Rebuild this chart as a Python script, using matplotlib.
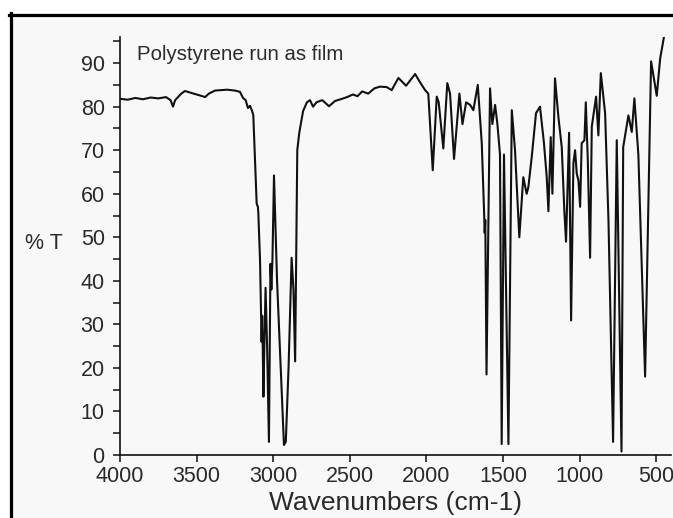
import matplotlib
matplotlib.use("Agg")
import matplotlib.pyplot as plt
from matplotlib.lines import Line2D
from matplotlib.patches import Rectangle
from matplotlib.ticker import MultipleLocator

# IR spectrum of polystyrene film
wavenumber = [
    4000, 3950, 3900, 3850, 3800, 3750, 3700, 3670, 3654, 3640, 3600, 3576,
    3520, 3480, 3445, 3420, 3380, 3300, 3250, 3217, 3197, 3180, 3165, 3151,
    3138, 3130, 3119, 3108, 3100, 3097, 3086, 3080, 3076, 3072, 3068, 3064,
    3058, 3050, 3040, 3028, 3018, 3012, 3005, 2995, 2975, 2945, 2930, 2918,
    2900, 2880, 2868, 2857, 2850, 2843, 2830, 2805, 2780, 2760, 2740, 2718,
    2680, 2636, 2597, 2551, 2518, 2480, 2450, 2420, 2380, 2340, 2303, 2260,
    2227, 2183, 2133, 2074, 2040, 2009, 1988, 1959, 1933, 1920, 1890, 1864,
    1846, 1820, 1785, 1765, 1741, 1715, 1694, 1665, 1639, 1625, 1620, 1616,
    1608, 1585, 1570, 1552, 1537, 1520, 1509, 1494, 1465, 1443, 1422, 1394,
    1368, 1346, 1335, 1313, 1285, 1259, 1233, 1215, 1204, 1189, 1178, 1161,
    1139, 1117, 1100, 1089, 1069, 1056, 1041, 1030, 1019, 1008, 997, 987,
    969, 960, 947, 932, 921, 893, 878, 862, 834, 812, 782, 758,
    727, 716, 682, 660, 643, 617, 573, 534, 497, 475, 450,
]
transmittance = [
    81.8, 81.6, 82.0, 81.7, 82.1, 81.9, 82.2, 81.5, 80.0, 81.5, 83.0, 83.6,
    83.0, 82.6, 82.2, 83.0, 83.7, 83.9, 83.7, 83.4, 82.0, 81.5, 79.7, 80.2,
    79.0, 78.0, 67.7, 57.7, 57.0, 55.4, 44.6, 34.0, 26.0, 32.0, 24.0, 13.4,
    25.0, 38.4, 25.0, 3.0, 43.9, 38.0, 45.0, 64.2, 40.0, 15.0, 2.3, 3.0,
    20.0, 45.3, 38.0, 21.5, 45.0, 70.0, 74.0, 79.0, 81.0, 81.5, 80.0, 81.0,
    81.5, 80.1, 81.3, 81.8, 82.2, 82.8, 82.4, 83.5, 83.0, 84.2, 84.6, 84.5,
    83.8, 86.6, 84.8, 87.5, 85.5, 83.8, 83.0, 65.4, 82.3, 81.0, 70.4, 85.4,
    83.0, 68.0, 83.0, 76.0, 81.0, 80.4, 79.2, 85.0, 71.6, 57.0, 51.0, 54.0,
    18.5, 84.2, 76.0, 80.4, 76.0, 69.0, 2.5, 69.0, 2.5, 79.2, 70.0, 50.0,
    63.8, 60.0, 61.5, 68.4, 78.5, 80.0, 71.6, 63.8, 56.0, 73.0, 60.0, 86.5,
    77.7, 70.7, 56.0, 49.0, 74.0, 30.9, 67.0, 70.0, 64.6, 63.0, 57.0, 71.6,
    72.3, 81.0, 67.7, 45.3, 75.4, 82.3, 73.4, 87.7, 78.5, 53.8, 3.0, 72.3,
    0.8, 70.7, 78.0, 74.2, 81.9, 69.0, 18.0, 90.4, 82.5, 91.0, 96.0,
]

x_ticks = [4000, 3500, 3000, 2500, 2000, 1500, 1000, 500]
y_ticks = [0, 10, 20, 30, 40, 50, 60, 70, 80, 90]

W, H = 673, 518
BG = "#f8f8f8"
INK = "#2a2a2a"

plt.rcParams["font.family"] = ["Liberation Sans", "DejaVu Sans"]

fig = plt.figure(figsize=(W / 100, H / 100), dpi=100, facecolor="white")

# grey page with the black frame of the screenshot
fig.add_artist(Rectangle((9 / W, 0), 1, 1 - 13 / H, transform=fig.transFigure,
                         facecolor=BG, edgecolor="none", zorder=-5))
fig.add_artist(Line2D([9 / W, 1], [1 - 14.5 / H, 1 - 14.5 / H],
                      transform=fig.transFigure, color="black", lw=2.3))
fig.add_artist(Line2D([10.5 / W, 10.5 / W], [0, 1 - 13 / H],
                      transform=fig.transFigure, color="black", lw=2.3))

ax = fig.add_axes([120 / W, (H - 455) / H, (671 - 120) / W, (455 - 37) / H])
ax.set_facecolor(BG)
ax.plot(wavenumber, transmittance, color="#111111", lw=1.5)

ax.set_xlim(4000, 404)
ax.set_ylim(0, 96)
ax.set_xticks(x_ticks)
ax.set_yticks(y_ticks)
ax.yaxis.set_minor_locator(MultipleLocator(5))

for side in ["top", "right"]:
    ax.spines[side].set_visible(False)
for side in ["left", "bottom"]:
    ax.spines[side].set_linewidth(1.2)
    ax.spines[side].set_color("#111111")

ax.tick_params(axis="both", which="both", direction="out", length=5,
               width=1.1, color="#111111", labelsize=15.5, labelcolor=INK)
ax.tick_params(axis="y", pad=6)
ax.tick_params(axis="x", pad=3)

ax.set_xlabel("Wavenumbers (cm-1)", fontsize=19, color=INK, labelpad=3)
fig.text(25 / W, 1 - 243 / H, "% T", fontsize=15.5, color=INK,
         ha="left", va="center")
fig.text(137 / W, 1 - 60 / H, "Polystyrene run as film", fontsize=14.7,
         color=INK, ha="left", va="baseline")

fig.savefig("out.png", dpi=100, facecolor=fig.get_facecolor())
